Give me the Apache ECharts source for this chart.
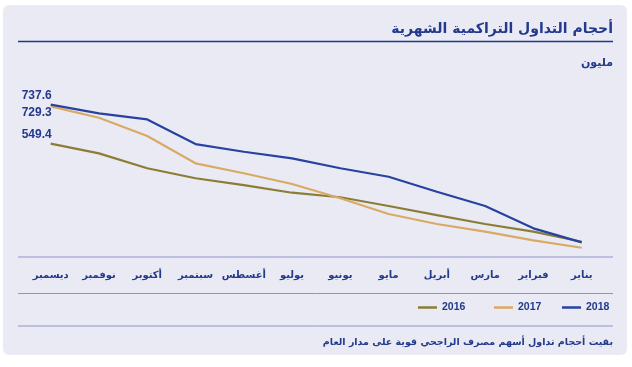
<!DOCTYPE html>
<html><head><meta charset="utf-8">
<script src="https://cdn.jsdelivr.net/npm/echarts@6/dist/echarts.min.js"></script>
<style>html,body{margin:0;padding:0;background:#fff}#c{width:632px;height:367px}</style>
</head><body><div id="c"></div>
<script>
const categories = ['يناير','فبراير','مارس','أبريل','مايو','يونيو','يوليو','أغسطس','سبتمبر','أكتوبر','نوفمبر','ديسمبر'];
const d2018 = [72, 140, 248, 317, 389, 430, 478, 510, 547, 666, 695, 737.6];
const d2017 = [46, 82, 124, 161, 209, 285, 354, 406, 454, 586, 674, 729.3];
const d2016 = [75, 124, 161, 204, 248, 290, 312, 349, 382, 430, 502, 549.4];
const seriesNames = ['2016', '2017', '2018'];
const titleText = 'أحجام التداول التراكمية الشهرية';
const unitText = 'مليون';
const footerText = 'بقيت أحجام تداول أسهم مصرف الراجحي قوية على مدار العام';

const NAVY = '#22398c';
const colors = {'2016': '#8b7d35', '2017': '#d8aa64', '2018': '#2742a0'};
const FONT = '"Liberation Sans", "DejaVu Sans", sans-serif';
const AR = '"DejaVu Sans", sans-serif';

function withLabel(arr, offset) {
  return arr.map((v, i) => i === arr.length - 1 ? {
    value: v,
    label: {show: true, position: 'left', distance: 0, offset: offset,
      color: NAVY, fontWeight: 'bold', fontSize: 12, fontFamily: FONT,
      formatter: (p) => p.value.toFixed(1)}
  } : v);
}

function mkSeries(name, data, offset) {
  return {
    name: name, type: 'line', data: withLabel(data, offset),
    symbol: 'circle', symbolSize: 0, showSymbol: true,
    lineStyle: {color: colors[name], width: 2.2},
    itemStyle: {color: colors[name]},
    emphasis: {disabled: true}, silent: true
  };
}

function mkLegend(name, left) {
  return {
    data: [name], left: left, top: 302, padding: 0, icon: 'rect', itemWidth: 19, itemHeight: 2.5,
    itemGap: 0, selectedMode: false,
    textStyle: {color: NAVY, fontWeight: 'bold', fontSize: 10.5, fontFamily: FONT}
  };
}

const chart = echarts.init(document.getElementById('c'), null, {renderer: 'canvas'});
chart.setOption({
  animation: false,
  backgroundColor: '#ffffff',
  graphic: [
    {type: 'rect', z: -10, shape: {x: 3, y: 5, width: 624, height: 350, r: 6}, style: {fill: '#eaeaf4'}, silent: true},
    {type: 'line', shape: {x1: 18, y1: 41.5, x2: 613, y2: 41.5}, style: {stroke: '#1f3a86', lineWidth: 1.5}, silent: true},
    {type: 'line', shape: {x1: 18, y1: 257, x2: 613, y2: 257}, style: {stroke: '#8c93cb', lineWidth: 1}, silent: true},
    {type: 'line', shape: {x1: 18, y1: 293.5, x2: 613, y2: 293.5}, style: {stroke: '#8c93cb', lineWidth: 1}, silent: true},
    {type: 'line', shape: {x1: 18, y1: 326, x2: 613, y2: 326}, style: {stroke: '#8c93cb', lineWidth: 1}, silent: true}
  ],
  title: [
    {text: titleText, right: 19, top: 22, padding: 0, textStyle: {color: NAVY, fontSize: 14, fontWeight: 'bold', fontFamily: AR}},
    {text: unitText, right: 19, top: 58, padding: 0, textStyle: {color: NAVY, fontSize: 11, fontWeight: 'bold', fontFamily: AR}},
    {text: footerText, right: 19, top: 338, padding: 0, textStyle: {color: NAVY, fontSize: 9.5, fontWeight: 'bold', fontFamily: AR}}
  ],
  legend: [mkLegend('2016', 418), mkLegend('2017', 494), mkLegend('2018', 562)],
  grid: {left: 50.7, right: 50.3, top: 91.7, bottom: 109.7, containLabel: false},
  xAxis: {
    type: 'category', data: categories, inverse: true, boundaryGap: false,
    axisLine: {show: false}, axisTick: {show: false}, splitLine: {show: false},
    axisLabel: {color: NAVY, fontWeight: 'bold', fontSize: 10, fontFamily: AR, margin: 13, interval: 0}
  },
  yAxis: {
    type: 'value', min: 0, max: 800, show: false, splitLine: {show: false}
  },
  series: [
    mkSeries('2016', d2016, [1, -9]),
    mkSeries('2017', d2017, [1, 6]),
    mkSeries('2018', d2018, [1, -9])
  ]
});
</script></body></html>
